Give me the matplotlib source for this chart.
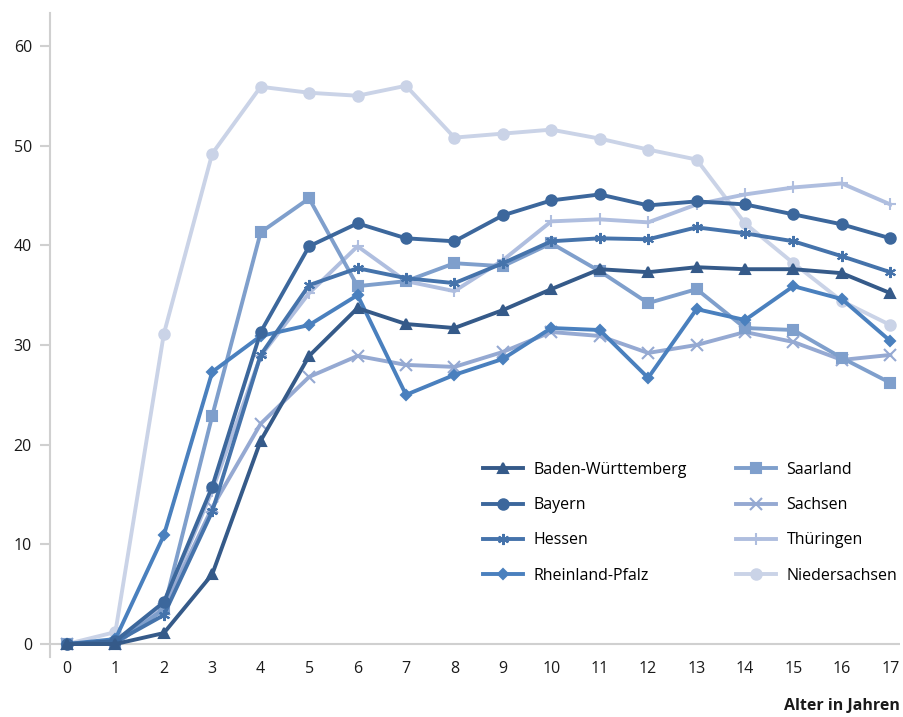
import matplotlib
matplotlib.use("Agg")
import matplotlib.pyplot as plt

ages = list(range(18))
bw = [0, 0, 1.1, 7.0, 20.4, 28.9, 33.7, 32.1, 31.7, 33.5, 35.6, 37.6, 37.3, 37.8, 37.6, 37.6, 37.2, 35.2]
bayern = [0, 0.3, 4.2, 15.8, 31.3, 39.9, 42.2, 40.7, 40.4, 43.0, 44.5, 45.1, 44.0, 44.4, 44.1, 43.1, 42.1, 40.7]
hessen = [0, 0.2, 2.9, 13.3, 29.0, 36.0, 37.7, 36.7, 36.2, 38.2, 40.4, 40.7, 40.6, 41.8, 41.2, 40.4, 38.9, 37.3]
rp = [0, 0.5, 10.9, 27.3, 30.9, 32.0, 35.0, 25.0, 27.0, 28.6, 31.7, 31.5, 26.7, 33.6, 32.5, 35.9, 34.6, 30.4]
saarland = [0, 0, 3.5, 22.9, 41.3, 44.7, 35.9, 36.4, 38.2, 37.9, 40.2, 37.4, 34.2, 35.6, 31.7, 31.5, 28.7, 26.2]
sachsen = [0, 0, 3.5, 13.7, 22.1, 26.8, 28.9, 28.0, 27.8, 29.3, 31.3, 30.9, 29.2, 30.0, 31.3, 30.3, 28.5, 29.0]
thueringen = [0, 0.3, 3.8, 15.4, 28.9, 35.2, 39.9, 36.4, 35.4, 38.5, 42.4, 42.6, 42.3, 44.1, 45.1, 45.8, 46.2, 44.1]
nieder = [0, 1.2, 31.1, 49.2, 55.9, 55.3, 55.0, 56.0, 50.8, 51.2, 51.6, 50.7, 49.6, 48.6, 42.2, 38.2, 34.4, 32.0]

series = [
    ("Baden-Württemberg", bw, "#355a89", "^"),
    ("Bayern", bayern, "#3c679c", "o"),
    ("Hessen", hessen, "#4573ab", (6, 2, 0)),
    ("Rheinland-Pfalz", rp, "#4a80be", "D"),
    ("Saarland", saarland, "#7f9fcc", "s"),
    ("Sachsen", sachsen, "#95a9d2", "x"),
    ("Thüringen", thueringen, "#afbedf", "+"),
    ("Niedersachsen", nieder, "#cad3e7", "o"),
]

plt.rcParams['font.family'] = ['Open Sans', 'DejaVu Sans']

fig = plt.figure(figsize=(9.04, 7.17), dpi=100)
ax = fig.add_axes([50/904, (717-657)/717, 850/904, 644/717])

order = [7, 6, 5, 4, 3, 2, 1, 0]
handles = {}
for i in order:
    name, vals, col, mk = series[i]
    ms = 7.5
    mew = 1.5
    if mk == "D":
        ms = 5.5
    if mk in ("x", "+", (6, 2, 0)):
        ms = 8
        mew = 1.5
    h, = ax.plot(ages, vals, color=col, lw=2.8, marker=mk, markersize=ms,
                 markeredgewidth=mew, markeredgecolor=col, markerfacecolor=col,
                 label=name, zorder=3 + (7 - i) * 0.1 + 1)
    handles[i] = h

ax.set_xlim(-0.35, 17.2)
ax.set_ylim(-1.3, 63.3)
for s in ["top", "right", "bottom"]:
    ax.spines[s].set_visible(False)
ax.spines["left"].set_color("#d0d0d0")
ax.spines["left"].set_linewidth(1.5)
ax.axhline(0, color="#d0d0d0", lw=1.5, zorder=1, xmin=0)
ax.set_yticks([0, 10, 20, 30, 40, 50, 60])
ax.set_xticks(ages)
ax.tick_params(axis="y", length=7, width=1.5, color="#d0d0d0", labelsize=11.5, pad=6, labelcolor="#1a1a1a")
ax.tick_params(axis="x", length=0, labelsize=11.5, pad=3, labelcolor="#1a1a1a")

fig.text(900/904, 1 - 706/717, "Alter in Jahren", ha="right", va="center",
         fontsize=11.5, fontweight="bold", color="#1a1a1a")

leg_handles = [handles[i] for i in range(8)]
leg = ax.legend(leg_handles, [s[0] for s in series], ncol=2, loc="upper left",
                bbox_to_anchor=(483/904, 1 - 462/717), bbox_transform=fig.transFigure,
                frameon=False, borderpad=0, borderaxespad=0,
                fontsize=11.5, handlelength=2.5, labelspacing=1.2,
                columnspacing=3.1, handletextpad=0.65)

fig.savefig("out.png", dpi=100)
